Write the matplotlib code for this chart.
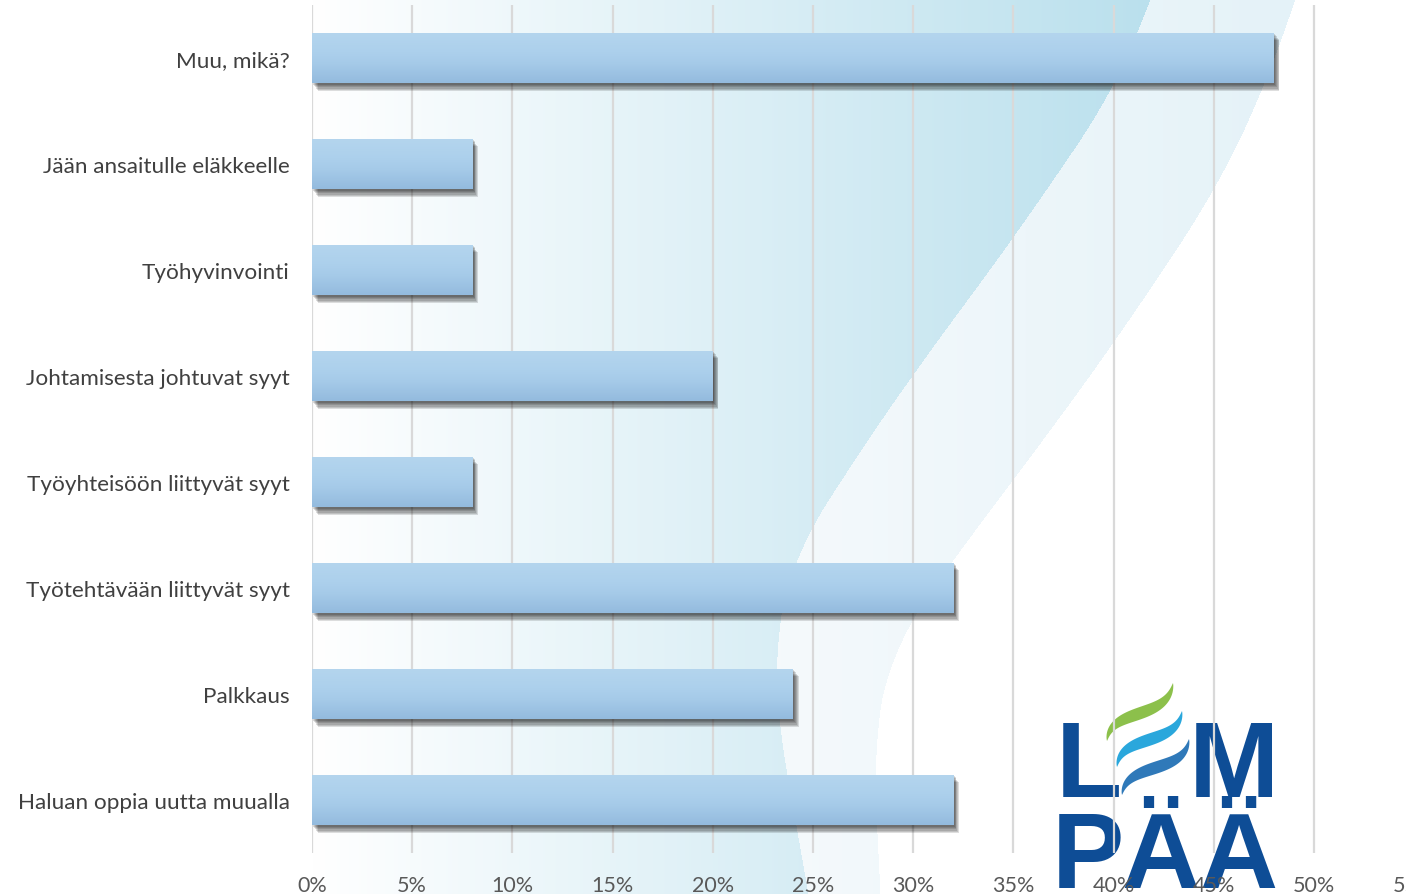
import numpy as np
import matplotlib.pyplot as plt
import matplotlib.patheffects as pe
from matplotlib.patches import Polygon

categories = ["Muu, mikä?", "Jään ansaitulle eläkkeelle", "Työhyvinvointi",
              "Johtamisesta johtuvat syyt", "Työyhteisöön liittyvät syyt",
              "Työtehtävään liittyvät syyt", "Palkkaus", "Haluan oppia uutta muualla"]
shares = [0.48, 0.08, 0.08, 0.20, 0.08, 0.32, 0.24, 0.32]
ticks = [0.0, 0.05, 0.10, 0.15, 0.20, 0.25, 0.30, 0.35, 0.40, 0.45, 0.50, 0.55]
tick_labels = ["0%", "5%", "10%", "15%", "20%", "25%", "30%", "35%", "40%", "45%", "50%", "55%"]

W, H = 1406, 895
plt.rcParams['font.family'] = ['Lato', 'DejaVu Sans']

# --- background: horizontal gradient with two wave bands ---
yy = np.arange(H)
def smooth_edge(pts, win=121):
    py, px = zip(*pts)
    edge = np.interp(yy, py, px)
    k = np.ones(win) / win
    pad = np.pad(edge, win // 2, mode='reflect', reflect_type='odd')
    return np.convolve(pad, k, mode='valid')

edge1 = smooth_edge([(0, 1150), (91, 1114), (236, 1015), (370, 916), (454, 858),
                     (561, 790), (652, 774), (719, 777), (895, 808)])
edge2 = smooth_edge([(0, 1295), (91, 1263), (195, 1213), (343, 1114), (454, 1033),
                     (561, 952), (652, 889), (753, 873), (895, 880)])

xx = np.arange(W)[None, :]
f1 = np.clip((xx - 312) / (1150 - 312), 0, 1)[..., None]
c_white = np.array([1.0, 1.0, 1.0])
c_deep = np.array([186, 224, 237]) / 255
dark = c_white * (1 - f1) + c_deep * f1
f2 = np.clip((xx - 750) / (1300 - 750), 0, 1)[..., None]
band = np.array([246, 250, 252]) / 255 * (1 - f2) + np.array([228, 242, 248]) / 255 * f2
img = np.ones((H, W, 3))
in_dark = xx < edge1[:, None]
in_band = (~in_dark) & (xx < edge2[:, None])
img = np.where(in_dark[..., None], np.broadcast_to(dark, (H, W, 3)), img)
img = np.where(in_band[..., None], np.broadcast_to(band, (H, W, 3)), img)

fig = plt.figure(figsize=(W / 100, H / 100), dpi=100)
bg = fig.add_axes([0, 0, 1, 1])
bg.set_xlim(0, W)
bg.set_ylim(H, 0)
bg.axis('off')
bg.imshow(img, extent=(0, W, H, 0), aspect='auto', zorder=0)

# --- logo ---
logo_blue = '#0e4d96'
logo_font = ['Liberation Sans Narrow', 'Liberation Sans', 'DejaVu Sans']
for ch, cx, base in [("L", 1089, 797), ("M", 1234, 797),
                     ("P", 1088, 888), ("Ä", 1160, 888), ("Ä", 1238, 888)]:
    bg.text(cx, base, ch, ha='center', va='baseline', fontsize=78,
            fontweight='bold', color=logo_blue, family=logo_font, zorder=1)

def wave(p0, p1, p2, p3, wmax, color):
    t = np.linspace(0, 1, 60)[:, None]
    P = [np.array(p) for p in (p0, p1, p2, p3)]
    c = ((1 - t) ** 3) * P[0] + 3 * ((1 - t) ** 2) * t * P[1] + 3 * (1 - t) * t ** 2 * P[2] + t ** 3 * P[3]
    d = np.gradient(c, axis=0)
    n = np.stack([-d[:, 1], d[:, 0]], axis=1)
    n /= np.linalg.norm(n, axis=1)[:, None]
    w = wmax * np.sin(np.pi * t[:, 0]) ** 0.8 / 2
    poly = np.vstack([c + n * w[:, None], (c - n * w[:, None])[::-1]])
    bg.add_patch(Polygon(poly, closed=True, color=color, lw=0, zorder=1))

wave((1107, 742), (1110, 708), (1168, 722), (1173, 684), 12, '#8cc04b')
wave((1117, 768), (1120, 734), (1178, 748), (1182, 712), 12, '#2aa7dc')
wave((1122, 796), (1126, 762), (1185, 776), (1189, 740), 12, '#2f79b9')

# --- bar chart ---
ax = fig.add_axes([312 / W, 1 - 854 / H, 1102.2 / W, 848 / H])
ax.patch.set_alpha(0)
pos = np.arange(len(categories))
shadow = [pe.SimplePatchShadow(offset=(1 + i * 0.6, -1 - i * 0.9), shadow_rgbFace='k', alpha=0.13)
          for i in range(6)] + [pe.Normal()]
bars = ax.barh(pos, shares, height=0.48, color='#a9cdeb', zorder=3, path_effects=shadow)

grad = np.array([[180, 213, 238], [172, 208, 236], [166, 203, 233], [148, 187, 222]]) / 255
grad_img = np.interp(np.linspace(0, 1, 50), [0, 0.4, 0.6, 1], [0, 1, 2, 3])
grad_cols = np.array([np.array([np.interp(g, range(4), grad[:, k]) for k in range(3)]) for g in grad_img])
for b in bars:
    x0, y0, w, h = b.get_x(), b.get_y(), b.get_width(), b.get_height()
    im = ax.imshow(grad_cols[:, None, :], extent=(x0, x0 + w, y0 + h, y0), aspect='auto',
                   zorder=4, interpolation='bilinear')
    im.set_clip_path(b)

ax.set_xlim(0, 0.55)
ax.set_ylim(7.5, -0.5)
ax.set_xticks(ticks)
ax.set_xticklabels(tick_labels, fontsize=15.5, color='#595959')
ax.set_yticks(pos)
ax.set_yticklabels(categories, fontsize=16.2, color='#404040')
ax.tick_params(axis='x', length=0, pad=16)
ax.tick_params(axis='y', length=0, pad=16)
ax.grid(axis='x', color='#d9d9d9', lw=1.6, zorder=0)
ax.set_axisbelow(True)
for s in ax.spines.values():
    s.set_visible(False)

fig.savefig('out.png', dpi=100)
